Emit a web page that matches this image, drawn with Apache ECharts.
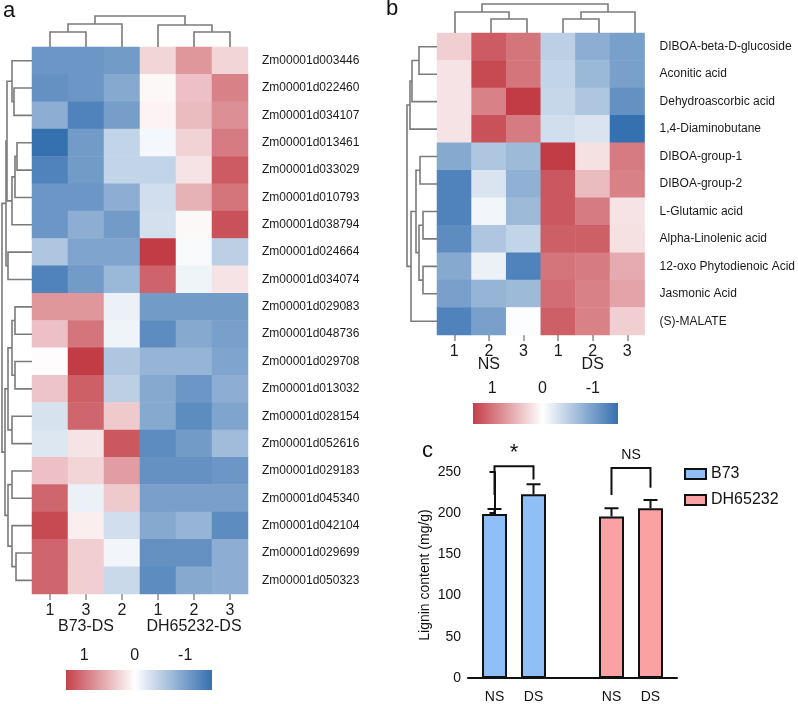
<!DOCTYPE html>
<html>
<head>
<meta charset="utf-8">
<script src="https://cdn.jsdelivr.net/npm/echarts@6/dist/echarts.min.js"></script>
<style>
  html, body { margin: 0; padding: 0; background: #fff; }
  #chart { width: 798px; height: 704px; }
</style>
</head>
<body>
<div id="chart"></div>
<script>
// ---- panel a: gene heatmap ----
const colsA = ['1', '3', '2', '1', '2', '3'];
const groupsA = ['B73-DS', 'DH65232-DS'];
const genesA = [
  'Zm00001d003446', 'Zm00001d022460', 'Zm00001d034107', 'Zm00001d013461',
  'Zm00001d033029', 'Zm00001d010793', 'Zm00001d038794', 'Zm00001d024664',
  'Zm00001d034074', 'Zm00001d029083', 'Zm00001d048736', 'Zm00001d029708',
  'Zm00001d013032', 'Zm00001d028154', 'Zm00001d052616', 'Zm00001d029183',
  'Zm00001d045340', 'Zm00001d042104', 'Zm00001d029699', 'Zm00001d050323'
];
const valuesA = [
  [-1.1, -1.1, -1.05, 0.3, 0.75, 0.3],
  [-1.15, -1.1, -0.9, 0.05, 0.45, 0.9],
  [-0.85, -1.3, -1.02, 0.08, 0.48, 0.8],
  [-1.5, -1.05, -0.45, -0.08, 0.32, 0.95],
  [-1.3, -1.05, -0.45, -0.45, 0.2, 1.18],
  [-1.1, -1.1, -0.85, -0.35, 0.55, 1.0],
  [-1.1, -0.85, -1.05, -0.32, 0.05, 1.25],
  [-0.6, -0.95, -0.95, 1.4, -0.05, -0.5],
  [-1.3, -1.05, -0.75, 1.12, -0.12, 0.2],
  [0.75, 0.75, -0.15, -1.05, -1.05, -1.05],
  [0.45, 1.0, -0.12, -1.2, -0.9, -1.0],
  [0.02, 1.4, -0.6, -0.78, -0.78, -0.95],
  [0.42, 1.15, -0.5, -0.9, -1.1, -0.85],
  [-0.3, 1.1, 0.38, -0.9, -1.2, -0.95],
  [-0.25, 0.2, 1.2, -1.2, -1.05, -0.7],
  [0.45, 0.3, 0.7, -1.15, -1.15, -1.1],
  [1.1, -0.15, 0.38, -1.0, -1.0, -1.0],
  [1.3, 0.12, -0.35, -0.9, -0.78, -1.2],
  [1.1, 0.35, -0.1, -1.15, -1.15, -0.85],
  [1.1, 0.35, -0.4, -1.2, -0.9, -0.85]
];
// linkage: [childA, childB, height]; leaves are 0..n-1, merges numbered after
const colLinkA = [[0, 1, 15], [6, 2, 23], [4, 5, 15], [3, 8, 22], [7, 9, 31]];
const rowLinkA = [
  [1, 2, 18], [0, 20, 20], [3, 4, 15], [22, 5, 17], [23, 6, 20],
  [21, 24, 25], [7, 8, 24], [25, 26, 26],
  [9, 10, 17], [11, 12, 17], [28, 29, 20], [13, 14, 20], [30, 31, 24],
  [15, 16, 20], [18, 19, 16], [17, 34, 20], [33, 35, 24], [32, 36, 27],
  [27, 37, 30]
];

// ---- panel b: metabolite heatmap ----
const colsB = ['1', '2', '3', '1', '2', '3'];
const groupsB = ['NS', 'DS'];
const metabolitesB = [
  'DIBOA-beta-D-glucoside', 'Aconitic acid', 'Dehydroascorbic acid',
  '1,4-Diaminobutane', 'DIBOA-group-1', 'DIBOA-group-2', 'L-Glutamic acid',
  'Alpha-Linolenic acid', '12-oxo Phytodienoic Acid', 'Jasmonic Acid', '(S)-MALATE'
];
const valuesB = [
  [0.35, 1.18, 1.0, -0.5, -0.85, -1.0],
  [0.2, 1.3, 1.0, -0.45, -0.75, -1.0],
  [0.2, 0.9, 1.4, -0.42, -0.6, -1.15],
  [0.2, 1.25, 0.95, -0.35, -0.28, -1.5],
  [-0.9, -0.6, -0.72, 1.4, 0.22, 0.95],
  [-1.3, -0.28, -0.82, 1.2, 0.48, 0.9],
  [-1.3, -0.1, -0.72, 1.2, 0.95, 0.2],
  [-1.2, -0.6, -0.45, 1.15, 1.15, 0.22],
  [-0.9, -0.15, -1.3, 1.0, 0.95, 0.6],
  [-1.0, -0.78, -0.72, 1.05, 0.9, 0.65],
  [-1.3, -1.0, -0.02, 1.15, 0.9, 0.35]
];
const colLinkB = [[1, 2, 14], [0, 6, 21], [3, 4, 14], [8, 5, 21], [7, 9, 29]];
const rowLinkB = [
  [0, 1, 18], [11, 2, 25], [12, 3, 27],
  [4, 5, 17], [6, 7, 14], [8, 9, 14], [15, 16, 18], [14, 17, 21], [18, 10, 26],
  [13, 19, 30]
];

// ---- panel c: lignin content ----
const conditionsC = ['NS', 'DS'];
const b73Mean = [199, 223];
const b73Upper = [205, 235];
const dhMean = [196, 206];
const dhUpper = [206, 216];
const yTicksC = [0, 50, 100, 150, 200, 250];
const signifC = [
  // [left bar, right bar, bracket top, left end, right end, label]
  [0, 1, 257, 222, 241, '*'],
  [2, 3, 255, 222, 231, 'NS']
];

// colour scale
const scaleMin = -1.5, scaleMax = 1.5;
const scaleColors = ['#3570b0', '#ffffff', '#be2e39'];

function hexToRgb(h) {
  return [parseInt(h.slice(1, 3), 16), parseInt(h.slice(3, 5), 16), parseInt(h.slice(5, 7), 16)];
}
function colorAt(v) {
  const t = Math.max(0, Math.min(1, (v - scaleMin) / (scaleMax - scaleMin)));
  const seg = t < 0.5 ? 0 : 1;
  const f = seg === 0 ? t / 0.5 : (t - 0.5) / 0.5;
  const a = hexToRgb(scaleColors[seg]), b = hexToRgb(scaleColors[seg + 1]);
  const c = a.map((x, i) => Math.round(x + (b[i] - x) * f));
  return 'rgb(' + c.join(',') + ')';
}

function heatData(vals) {
  const out = [];
  vals.forEach((row, r) => row.forEach((v, c) => out.push([c, r, v])));
  return out;
}

function dendro(n, links) {
  const pos = [], hh = [];
  for (let i = 0; i < n; i++) { pos[i] = i + 0.5; hh[i] = 0; }
  const segs = [];
  links.forEach(([a, b, h], k) => {
    segs.push([pos[a], hh[a], pos[b], hh[b], h]);
    pos[n + k] = (pos[a] + pos[b]) / 2;
    hh[n + k] = h;
  });
  return segs;
}

function dendroSeries(data, xi, yi, vertical) {
  return {
    type: 'custom',
    xAxisIndex: xi,
    yAxisIndex: yi,
    silent: true,
    clip: false,
    data: data,
    renderItem(params, api) {
      const p1 = api.value(0), h1 = api.value(1), p2 = api.value(2), h2 = api.value(3), h = api.value(4);
      const pts = vertical
        ? [[p1, h1], [p1, h], [p2, h], [p2, h2]]
        : [[h1, p1], [h, p1], [h, p2], [h2, p2]];
      return {
        type: 'polyline',
        shape: { points: pts.map(p => api.coord(p)) },
        style: { stroke: '#7b7b7b', lineWidth: 1.6, fill: null }
      };
    }
  };
}

function colorbarSeries(xi, yi, lo, hi) {
  const stops = [hi, 0.5, 0, -0.5, lo].map(v => ({ offset: (hi - v) / (hi - lo), color: colorAt(v) }));
  return {
    type: 'custom',
    xAxisIndex: xi,
    yAxisIndex: yi,
    silent: true,
    z: 1,
    data: [[lo, hi]],
    renderItem(params, api) {
      const a = api.coord([api.value(1), 1]);
      const b = api.coord([api.value(0), 0]);
      return {
        type: 'rect',
        shape: { x: a[0], y: a[1], width: b[0] - a[0], height: b[1] - a[1] },
        style: { fill: new echarts.graphic.LinearGradient(0, 0, 1, 0, stops) }
      };
    }
  };
}

const FONT = '"Liberation Sans", Arial, sans-serif';

function heatX(grid, cats) {
  return {
    type: 'category', gridIndex: grid, data: cats, position: 'bottom',
    axisLine: { show: false },
    axisTick: { show: true, alignWithLabel: true, length: 6, lineStyle: { color: '#8a8a8a', width: 1.5 } },
    axisLabel: { fontSize: 16, color: '#1a1a1a', margin: 9, interval: 0 },
    splitLine: { show: false }
  };
}
function groupX(grid, cats, off) {
  return {
    type: 'category', gridIndex: grid, data: cats, position: 'bottom', offset: off,
    axisLine: { show: false }, axisTick: { show: false },
    axisLabel: { fontSize: 16, color: '#1a1a1a', margin: 9, interval: 0, hideOverlap: false }
  };
}
function heatY(grid, cats, margin) {
  return {
    type: 'category', gridIndex: grid, data: cats, inverse: true, position: 'right',
    axisLine: { show: false }, axisTick: { show: false },
    axisLabel: { fontSize: 12, color: '#1a1a1a', margin: margin, interval: 0 }
  };
}
function valAxis(grid, min, max, inverse) {
  return { type: 'value', gridIndex: grid, min: min, max: max, inverse: !!inverse, show: false };
}
function cbarX(grid, lo, hi) {
  return {
    type: 'value', gridIndex: grid, min: lo, max: hi, inverse: true, position: 'top', z: 10,
    axisLine: { show: false },
    splitLine: { show: false },
    axisTick: { show: true, inside: true, customValues: [1, 0, -1], length: 5, lineStyle: { color: '#ffffff', width: 1.5 } },
    axisLabel: { customValues: [1, 0, -1], fontSize: 16, color: '#1a1a1a', margin: 6 }
  };
}

const barX = [0, 1, 3, 4]; // slot of each bar along the x axis

const chart = echarts.init(document.getElementById('chart'));
chart.setOption({
  animation: false,
  backgroundColor: '#ffffff',
  textStyle: { fontFamily: FONT },
  title: [
    { text: 'a', left: 3, top: 0, padding: 0, textStyle: { fontSize: 22, fontWeight: 'normal', color: '#111', fontFamily: FONT } },
    { text: 'b', left: 386, top: -2, padding: 0, textStyle: { fontSize: 22, fontWeight: 'normal', color: '#111', fontFamily: FONT } },
    { text: 'c', left: 422, top: 440, padding: 0, textStyle: { fontSize: 22, fontWeight: 'normal', color: '#111', fontFamily: FONT } }
  ],
  grid: [
    { left: 32, top: 47, width: 216, height: 547 },   // 0 heat a
    { left: 32, top: 14, width: 216, height: 33 },    // 1 col dendro a
    { left: 0, top: 47, width: 32, height: 547 },     // 2 row dendro a
    { left: 66, top: 670, width: 146, height: 20 },   // 3 colorbar a
    { left: 437, top: 33, width: 216, height: 302 },  // 4 heat b
    { left: 437, top: 0, width: 216, height: 33 },    // 5 col dendro b
    { left: 405, top: 33, width: 32, height: 302 },   // 6 row dendro b
    { left: 473, top: 403, width: 145, height: 21 },  // 7 colorbar b
    { left: 468, top: 472, width: 209, height: 207 }  // 8 bars
  ],
  xAxis: [
    heatX(0, colsA),
    groupX(0, groupsA, 16),
    valAxis(1, 0, 6),
    valAxis(2, 0, 32, true),
    cbarX(3, -1.53, 1.36),
    heatX(4, colsB),
    groupX(4, groupsB, 13),
    valAxis(5, 0, 6),
    valAxis(6, 0, 32, true),
    cbarX(7, -1.5, 1.38),
    {
      type: 'value', gridIndex: 8, min: -0.68, max: 4.68,
      axisLine: { show: true, onZero: false, lineStyle: { color: '#111', width: 2 } },
      axisTick: { show: false },
      splitLine: { show: false },
      axisLabel: {
        customValues: barX, fontSize: 14, color: '#111', margin: 12,
        formatter: v => conditionsC[barX.indexOf(v) % 2]
      }
    }
  ],
  yAxis: [
    heatY(0, genesA, 14),
    valAxis(1, 0, 33),
    valAxis(2, 0, 20, true),
    valAxis(3, 0, 1),
    heatY(4, metabolitesB, 15),
    valAxis(5, 0, 33),
    valAxis(6, 0, 11, true),
    valAxis(7, 0, 1),
    {
      type: 'value', gridIndex: 8, min: 0, max: 250, interval: 50,
      name: 'Lignin content (mg/g)', nameLocation: 'middle', nameGap: 36, nameRotate: 90,
      nameTextStyle: { fontSize: 14, color: '#111' },
      axisLine: { show: true, lineStyle: { color: '#111', width: 2 } },
      axisTick: { show: true, length: 5, lineStyle: { color: '#111', width: 2 } },
      splitLine: { show: false },
      axisLabel: { fontSize: 14, color: '#111', margin: 7, customValues: yTicksC }
    }
  ],
  visualMap: {
    type: 'continuous', show: false, dimension: 2, seriesIndex: [0, 1],
    min: scaleMin, max: scaleMax, inRange: { color: scaleColors }
  },
  legend: {
    data: ['B73', 'DH65232'], orient: 'vertical', left: 679, top: 461,
    icon: 'rect', itemWidth: 21, itemHeight: 10, itemGap: 10,
    textStyle: { fontSize: 16, color: '#111', fontFamily: FONT }
  },
  series: [
    { type: 'heatmap', xAxisIndex: 0, yAxisIndex: 0, data: heatData(valuesA), silent: true },
    { type: 'heatmap', xAxisIndex: 5, yAxisIndex: 4, data: heatData(valuesB), silent: true },
    dendroSeries(dendro(6, colLinkA), 2, 1, true),
    dendroSeries(dendro(20, rowLinkA), 3, 2, false),
    dendroSeries(dendro(6, colLinkB), 7, 5, true),
    dendroSeries(dendro(11, rowLinkB), 8, 6, false),
    colorbarSeries(4, 3, -1.53, 1.36),
    colorbarSeries(9, 7, -1.5, 1.38),
    {
      name: 'B73', type: 'bar', xAxisIndex: 10, yAxisIndex: 8, barWidth: 25, barGap: '-100%',
      data: b73Mean.map((v, i) => [barX[i], v]),
      itemStyle: { color: '#90bff8', borderColor: '#111', borderWidth: 2 }
    },
    {
      name: 'DH65232', type: 'bar', xAxisIndex: 10, yAxisIndex: 8, barWidth: 25, barGap: '-100%',
      data: dhMean.map((v, i) => [barX[i + 2], v]),
      itemStyle: { color: '#f9a1a3', borderColor: '#111', borderWidth: 2 }
    },
    {
      type: 'custom', xAxisIndex: 10, yAxisIndex: 8, silent: true, z: 3,
      data: b73Mean.map((v, i) => [barX[i], v, b73Upper[i]])
        .concat(dhMean.map((v, i) => [barX[i + 2], v, dhUpper[i]])),
      renderItem(params, api) {
        const base = api.coord([api.value(0), api.value(1)]);
        const top = api.coord([api.value(0), api.value(2)]);
        return {
          type: 'polyline',
          shape: { points: [[base[0], base[1]], [top[0], top[1]], [top[0] - 7, top[1]], [top[0] + 7, top[1]]] },
          style: { stroke: '#111', lineWidth: 2, fill: null }
        };
      }
    },
    {
      type: 'custom', xAxisIndex: 10, yAxisIndex: 8, silent: true, clip: false, z: 3,
      data: signifC.map(s => [barX[s[0]], barX[s[1]], s[2], s[3], s[4], s[5]]),
      renderItem(params, api) {
        const l = api.coord([api.value(0), api.value(3)]);
        const lt = api.coord([api.value(0), api.value(2)]);
        const rt = api.coord([api.value(1), api.value(2)]);
        const r = api.coord([api.value(1), api.value(4)]);
        const label = signifC[params.dataIndex][5];
        return {
          type: 'group',
          children: [
            {
              type: 'polyline',
              shape: { points: [l, lt, rt, r] },
              style: { stroke: '#111', lineWidth: 2, fill: null }
            },
            {
              type: 'text',
              x: (lt[0] + rt[0]) / 2,
              y: lt[1] - 13,
              style: {
                text: label, fill: '#111', align: 'center', verticalAlign: 'middle',
                font: (label === '*' ? '22px ' : '14px ') + FONT
              }
            }
          ]
        };
      }
    }
  ]
});
</script>
</body>
</html>
